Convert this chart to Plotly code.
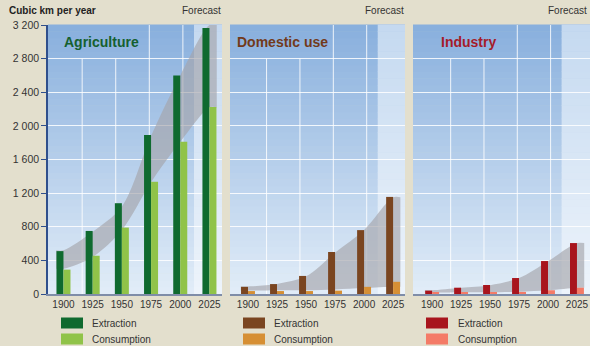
import plotly.graph_objects as go

W, H = 590, 346

# ---------------- data ----------------
years = ["1900", "1925", "1950", "1975", "2000", "2025"]

ag_extraction = [510, 750, 1080, 1890, 2600, 3165]
ag_consumption = [290, 455, 790, 1335, 1810, 2225]
dom_extraction = [85, 118, 215, 500, 760, 1155]
dom_consumption = [35, 35, 35, 40, 85, 145]
ind_extraction = [40, 75, 107, 190, 392, 606]
ind_consumption = [15, 20, 20, 25, 45, 75]

# grey ribbon (trend envelope) behind the bars
ag_band_high = [520, 740, 1040, 1880, 2600, 3200]
ag_band_low = [300, 440, 760, 1330, 1810, 2220]
dom_band_high = [90, 120, 210, 490, 760, 1150]
dom_band_low = [40, 45, 45, 55, 70, 85]
ind_band_high = [45, 75, 105, 190, 390, 606]
ind_band_low = [15, 20, 22, 28, 45, 75]

y_ticks = [0, 400, 800, 1200, 1600, 2000, 2400, 2800, 3200]
y_tick_labels = ["0", "400", "800", "1 200", "1 600", "2 000", "2 400", "2 800", "3 200"]

sectors = ["Agriculture", "Domestic use", "Industry"]
legend_labels = ["Extraction", "Consumption"]
forecast_label = "Forecast"
unit_label = "Cubic km per year"

# ---------------- style ----------------
FONT = "Liberation Sans, Arial, Helvetica, sans-serif"
BG = "#e3dfcd"
panels = [
    dict(title=sectors[0], tcol="#15602f", ext=ag_extraction, con=ag_consumption,
         hi=ag_band_high, lo=ag_band_low, ecol="#0f6a2f", ccol="#90c349",
         px=(48, 222), rng=(-0.53, 5.43), title_x=62, sw_x=61, txt_x=90),
    dict(title=sectors[1], tcol="#723a1b", ext=dom_extraction, con=dom_consumption,
         hi=dom_band_high, lo=dom_band_low, ecol="#7a4520", ccol="#d68f34",
         px=(230, 405), rng=(-0.62, 5.41), title_x=235, sw_x=243, txt_x=272),
    dict(title=sectors[2], tcol="#a51b29", ext=ind_extraction, con=ind_consumption,
         hi=ind_band_high, lo=ind_band_low, ecol="#a8151d", ccol="#f47b67",
         px=(413, 590), rng=(-0.66, 5.45), title_x=439, sw_x=426, txt_x=456),
]
Y_TOP, Y_BOT = 25, 294
FORECAST_START = 4.47
VGRID = [0.64, 1.79, 2.94, 4.09]


def px(x):
    return x / W


def py(y):
    return 1 - y / H


def mix(c0, c1, t):
    return "rgb(%d,%d,%d)" % tuple(round(a + (b - a) * t) for a, b in zip(c0, c1))


MAIN_BOT, MAIN_TOP = (226, 237, 248), (136, 175, 221)
FC_BOT, FC_TOP = (238, 244, 251), (196, 217, 240)

fig = go.Figure()
shapes = []
annotations = []
layout = dict(
    width=W, height=H, margin=dict(l=0, r=0, t=0, b=0, autoexpand=False),
    paper_bgcolor=BG, plot_bgcolor="rgba(0,0,0,0)",
    showlegend=False, barmode="group", bargap=0.52, bargroupgap=0,
    font=dict(family=FONT, size=10, color="#333333"),
)

xs = list(range(len(years)))
N = 40
for i, p in enumerate(panels):
    k = "" if i == 0 else str(i + 1)
    xa, ya = "x" + k, "y" + k
    yo = "y" + str(i + 4)
    dom = [px(p["px"][0]), px(p["px"][1])]
    ydom = [py(Y_BOT), py(Y_TOP)]
    layout["xaxis" + k] = dict(
        domain=dom, range=list(p["rng"]), anchor=ya, tickvals=xs, ticktext=years,
        showline=True, linecolor="#7f8da8", linewidth=2, ticks="", showgrid=False,
        zeroline=False, tickfont=dict(size=10, color="#333333"), fixedrange=True,
        automargin=False)
    yax = dict(domain=ydom, range=[0, 3200], anchor=xa, tickvals=y_ticks,
               showgrid=True, gridcolor="rgba(255,255,255,0.85)", gridwidth=1,
               zeroline=False, fixedrange=True, automargin=False)
    if i == 0:
        yax.update(ticktext=y_tick_labels, showline=True, linecolor="#2f4f8c",
                   linewidth=1.5, ticks="outside", ticklen=5, tickcolor="#2f4f8c",
                   tickwidth=1, tickfont=dict(size=10.5, color="#333333"))
    else:
        yax.update(showticklabels=False, showline=False, ticks="")
    layout["yaxis" + k] = yax
    layout["yaxis" + str(i + 4)] = dict(overlaying=ya, range=[0, 3200], visible=False,
                                        fixedrange=True, anchor=xa, automargin=False)

    # gradient background (main and forecast zone)
    for s in range(N):
        t0, t1 = s / N, (s + 1) / N
        tc = (t0 + t1) / 2
        shapes.append(dict(type="rect", xref=xa + " domain", yref=ya + " domain",
                           x0=0, x1=1, y0=t0, y1=t1 + 0.002, layer="below",
                           line=dict(width=0), fillcolor=mix(MAIN_BOT, MAIN_TOP, tc)))
    for s in range(N):
        t0, t1 = s / N, (s + 1) / N
        tc = (t0 + t1) / 2
        shapes.append(dict(type="rect", xref=xa, yref=ya + " domain",
                           x0=FORECAST_START, x1=p["rng"][1], y0=t0, y1=t1 + 0.002,
                           layer="below", line=dict(width=0),
                           fillcolor=mix(FC_BOT, FC_TOP, tc)))
    # vertical grid lines
    for j, gx in enumerate(VGRID):
        shapes.append(dict(type="line", xref=xa, yref=ya, x0=gx, x1=gx, y0=0,
                           y1=2800 if j < 2 else 3200, layer="below",
                           line=dict(color="rgba(255,255,255,0.85)", width=1)))

    # grey ribbon behind bars
    bx = [-0.25] + xs + [5.25]
    lo = [p["lo"][0]] + p["lo"] + [p["lo"][-1]]
    hi = [p["hi"][0]] + p["hi"] + [p["hi"][-1]]
    fig.add_trace(go.Scatter(x=bx, y=lo, xaxis=xa, yaxis=ya, mode="lines",
                             line=dict(width=0, shape="spline", smoothing=0.9),
                             hoverinfo="skip"))
    fig.add_trace(go.Scatter(x=bx, y=hi, xaxis=xa, yaxis=ya, mode="lines",
                             line=dict(width=0, shape="spline", smoothing=0.9),
                             fill="tonexty", fillcolor="rgba(165,165,170,0.65)",
                             hoverinfo="skip"))

    # bars (on overlaying axis so they sit above the ribbon)
    fig.add_trace(go.Bar(x=xs, y=p["ext"], xaxis=xa, yaxis=yo, name=legend_labels[0],
                         marker=dict(color=p["ecol"], line=dict(width=0))))
    fig.add_trace(go.Bar(x=xs, y=p["con"], xaxis=xa, yaxis=yo, name=legend_labels[1],
                         marker=dict(color=p["ccol"], line=dict(width=0))))

    # panel title
    annotations.append(dict(text="<b>%s</b>" % p["title"], xref="paper", yref="paper",
                            x=px(p["title_x"]), y=py(42), xanchor="left", yanchor="middle",
                            showarrow=False, font=dict(size=14, color=p["tcol"], family=FONT)))
    # forecast label
    annotations.append(dict(text=forecast_label, xref="paper", yref="paper",
                            x=px(min(p["px"][1] + 1, W - 1)), y=py(11), xanchor="right",
                            yanchor="middle", showarrow=False,
                            font=dict(size=10, color="#333333", family=FONT)))
    # legend
    for r, (lab, col) in enumerate(zip(legend_labels, [p["ecol"], p["ccol"]])):
        yc = 323 + r * 16
        shapes.append(dict(type="rect", xref="paper", yref="paper",
                           x0=px(p["sw_x"]), x1=px(p["sw_x"] + 22),
                           y0=py(yc + 5.5), y1=py(yc - 5.5),
                           fillcolor=col, line=dict(width=0)))
        annotations.append(dict(text=lab, xref="paper", yref="paper",
                                x=px(p["txt_x"]), y=py(yc), xanchor="left",
                                yanchor="middle", showarrow=False,
                                font=dict(size=10, color="#333333", family=FONT)))

annotations.append(dict(text="<b>%s</b>" % unit_label, xref="paper", yref="paper",
                        x=px(7), y=py(11), xanchor="left", yanchor="middle",
                        showarrow=False, font=dict(size=10, color="#222222", family=FONT)))

layout["shapes"] = shapes
layout["annotations"] = annotations
fig.update_layout(**layout)
fig.write_html("out.html")
